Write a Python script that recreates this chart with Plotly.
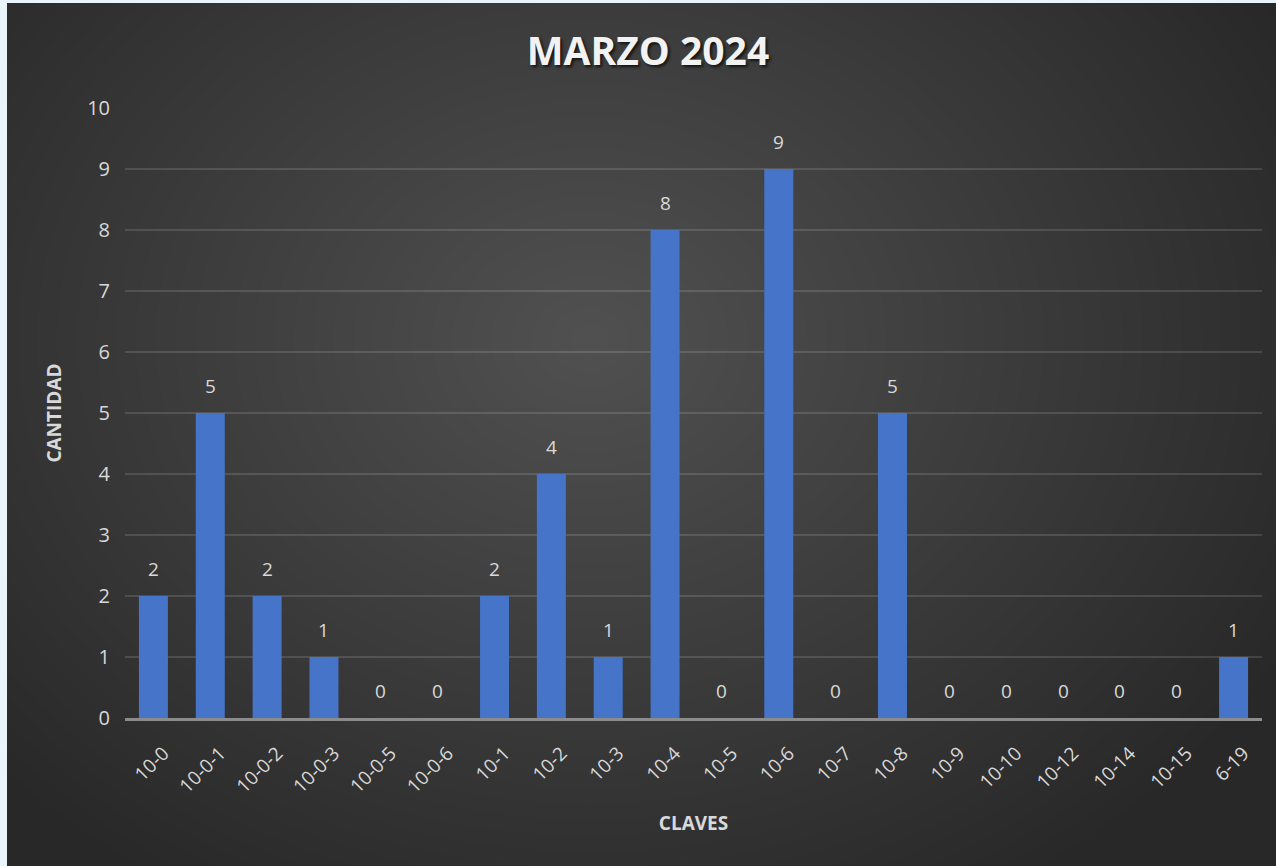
import plotly.graph_objects as go

claves = ["10-0", "10-0-1", "10-0-2", "10-0-3", "10-0-5", "10-0-6", "10-1", "10-2", "10-3",
          "10-4", "10-5", "10-6", "10-7", "10-8", "10-9", "10-10", "10-12", "10-14", "10-15", "6-19"]
cantidad = [2, 5, 2, 1, 0, 0, 2, 4, 1, 8, 0, 9, 0, 5, 0, 0, 0, 0, 0, 1]
y_ticks = list(range(0, 11))

W, H = 1276, 866
L, R, T, B = 125, 14, 108, 148
PW, PH = W - L - R, H - T - B

def px(x):
    return (x - L) / PW

def py(y):
    return (H - B - y) / PH

fig = go.Figure()
fig.add_trace(go.Bar(
    x=claves, y=cantidad,
    marker=dict(color="#4674c8", line=dict(width=0)),
    width=0.51,
    hoverinfo="x+y",
))

shapes = []
shapes.append(dict(type="rect", xref="paper", yref="paper", x0=px(7), x1=px(W + 5),
                   y0=py(H + 5), y1=py(3), fillcolor="#282828", line=dict(width=0), layer="below"))
N = 40
cx, cy = 590, 340
for i in range(N):
    f = 1 - i / N
    rx, ry = 790 * f, 640 * f
    shapes.append(dict(type="circle", xref="paper", yref="paper",
                       x0=px(cx - rx), x1=px(cx + rx), y0=py(cy + ry), y1=py(cy - ry),
                       fillcolor="rgba(255,255,255,0.0068)", line=dict(width=0), layer="below"))

annotations = []
for c, v in zip(claves, cantidad):
    annotations.append(dict(x=c, y=v, xref="x", yref="y", text=str(v), showarrow=False,
                            yanchor="bottom", yshift=12,
                            font=dict(family="Open Sans, sans-serif", size=19, color="#d9d9d9")))

fig.update_layout(
    width=W, height=H,
    margin=dict(l=L, r=R, t=T, b=B),
    paper_bgcolor="#eaf4fb",
    plot_bgcolor="rgba(0,0,0,0)",
    shapes=shapes,
    annotations=annotations,
    showlegend=False,
    bargap=0.49,
    title=dict(text="<b>MARZO 2024</b>", x=648 / W, xref="container", xanchor="center",
               y=1 - 51 / H, yanchor="middle",
               font=dict(family="Open Sans, sans-serif", size=39, color="#f2f2f2",
                         shadow="2px 2px 3px rgba(0,0,0,0.7)")),
    font=dict(family="Open Sans, sans-serif", color="#d9d9d9"),
    xaxis=dict(
        type="category",
        tickangle=-45, tickfont=dict(size=19, color="#d9d9d9"),
        showgrid=False, showline=True, linecolor="#8c8c8c", linewidth=2.5,
        ticks="", zeroline=False, ticklabelstandoff=14, ticklabelshift=10,
        title=dict(text="<b>CLAVES</b>", font=dict(size=19, color="#d9d9d9"), standoff=20),
    ),
    yaxis=dict(
        range=[0, 10], tickvals=y_ticks, tickfont=dict(size=20, color="#d9d9d9"),
        showgrid=True, gridcolor="rgba(255,255,255,0.13)", gridwidth=1.5,
        zeroline=False, showline=False, ticks="", ticklabelstandoff=14,
        title=dict(text="<b>CANTIDAD</b>", font=dict(size=19, color="#d9d9d9"), standoff=20),
    ),
)

fig.write_html("out.html", config={"displayModeBar": False},
               post_script="document.body.style.margin='0';")
